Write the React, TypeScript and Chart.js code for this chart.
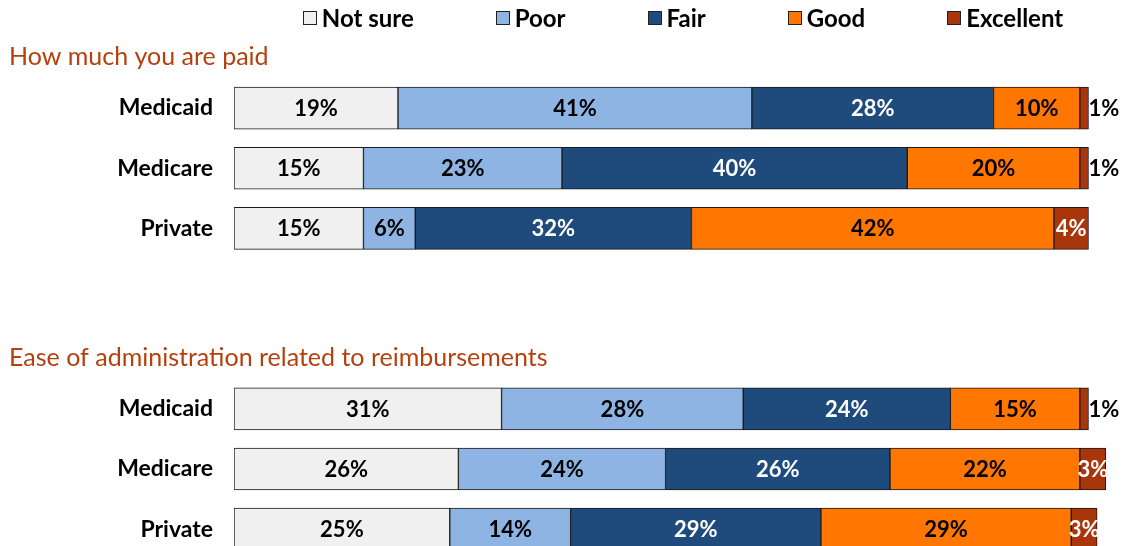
import React, { useEffect, useRef } from "react";
import { Chart, registerables } from "chart.js";

Chart.register(...registerables);

const categories = ["Medicaid", "Medicare", "Private", "", "", "Medicaid", "Medicare", "Private"];
const sectionTitles = ["How much you are paid", "Ease of administration related to reimbursements"];
const sectionStartIndex = [0, 5];

const seriesNames = ["Not sure", "Poor", "Fair", "Good", "Excellent"];
const notSure = [19, 15, 15, null, null, 31, 26, 25];
const poor = [41, 23, 6, null, null, 28, 24, 14];
const fair = [28, 40, 32, null, null, 24, 26, 29];
const good = [10, 20, 42, null, null, 15, 22, 29];
const excellent = [1, 1, 4, null, null, 1, 3, 3];

const seriesColors = ["#F0F0F0", "#8EB4E3", "#1F4A7C", "#FF7600", "#A8360A"];
const labelColors = ["#000000", "#000000", "#FFFFFF", "#000000", "#FFFFFF"];
const titleColor = "#B5400E";
const FONT = "Lato, 'Open Sans', sans-serif";

export default function App() {
  const ref = useRef<HTMLCanvasElement | null>(null);

  useEffect(() => {
    if (!ref.current) return;
    const values = [notSure, poor, fair, good, excellent];

    const legendAndTitles = {
      id: "legendAndTitles",
      afterDraw(chart: any) {
        const ctx = chart.ctx;
        const yScale = chart.scales.y;
        ctx.save();
        // section titles
        ctx.font = `normal 25px ${FONT}`;
        ctx.fillStyle = titleColor;
        ctx.textAlign = "left";
        ctx.textBaseline = "middle";
        sectionTitles.forEach((t, i) => {
          const y = yScale.getPixelForValue(sectionStartIndex[i]) - 51;
          ctx.fillText(t, 9, y);
        });
        // legend
        ctx.font = `bold 24px ${FONT}`;
        const box = 14;
        const gapBoxText = 5;
        const gapItems = 82;
        const widths = seriesNames.map((n) => box + gapBoxText + ctx.measureText(n).width);
        const total = widths.reduce((a, b) => a + b, 0) + gapItems * (widths.length - 1);
        let x = 683 - total / 2;
        const cy = 18;
        seriesNames.forEach((n, i) => {
          const bx = Math.round(x);
          ctx.fillStyle = seriesColors[i];
          ctx.fillRect(bx, cy - box / 2, box, box);
          ctx.strokeStyle = "#222";
          ctx.lineWidth = 1;
          ctx.strokeRect(bx + 0.5, cy - box / 2 + 0.5, box - 1, box - 1);
          ctx.fillStyle = "#000";
          ctx.textAlign = "left";
          ctx.fillText(n, x + box + gapBoxText, cy + 1);
          x += widths[i] + gapItems;
        });
        ctx.restore();
      },
      afterDatasetsDraw(chart: any) {
        const ctx = chart.ctx;
        ctx.save();
        ctx.font = `bold 22px ${FONT}`;
        ctx.textBaseline = "middle";
        chart.data.datasets.forEach((ds: any, di: number) => {
          const meta = chart.getDatasetMeta(di);
          meta.data.forEach((bar: any, i: number) => {
            const v = ds.data[i];
            if (v === null || v === undefined) return;
            const text = `${v}%`;
            if (v < 2) {
              ctx.fillStyle = "#000";
              ctx.textAlign = "left";
              ctx.fillText(text, bar.x, bar.y + 1);
            } else {
              ctx.fillStyle = labelColors[di];
              ctx.textAlign = "center";
              ctx.fillText(text, (bar.x + bar.base) / 2, bar.y + 1);
            }
          });
        });
        ctx.restore();
      },
    };

    const chart = new Chart(ref.current, {
      type: "bar",
      data: {
        labels: categories,
        datasets: seriesNames.map((name, i) => ({
          label: name,
          data: values[i],
          backgroundColor: seriesColors[i],
          borderColor: "#1a1a1a",
          borderWidth: 1,
          borderSkipped: false,
          barThickness: 42,
        })),
      },
      options: {
        indexAxis: "y",
        responsive: true,
        maintainAspectRatio: false,
        animation: false,
        layout: { padding: { top: 78, bottom: 12, left: 0, right: 2 } },
        plugins: {
          legend: { display: false },
          tooltip: { enabled: false },
        },
        scales: {
          x: {
            stacked: true,
            display: false,
            min: 0,
            max: 103,
          },
          y: {
            stacked: true,
            grid: { display: false, drawTicks: false },
            border: { display: false },
            ticks: {
              color: "#000",
              padding: 21,
              font: { family: FONT, size: 23, weight: "bold" },
            },
            afterFit(scale: any) {
              scale.width = 234;
            },
          },
        },
      },
      plugins: [legendAndTitles],
    } as any);
    return () => chart.destroy();
  }, []);

  return (
    <div
      style={{
        position: "fixed",
        left: 0,
        top: 0,
        width: 1125,
        height: 546,
        overflow: "hidden",
        background: "#fff",
      }}
    >
      <div style={{ position: "relative", width: 1125, height: 594 }}>
        <canvas ref={ref} />
      </div>
    </div>
  );
}
